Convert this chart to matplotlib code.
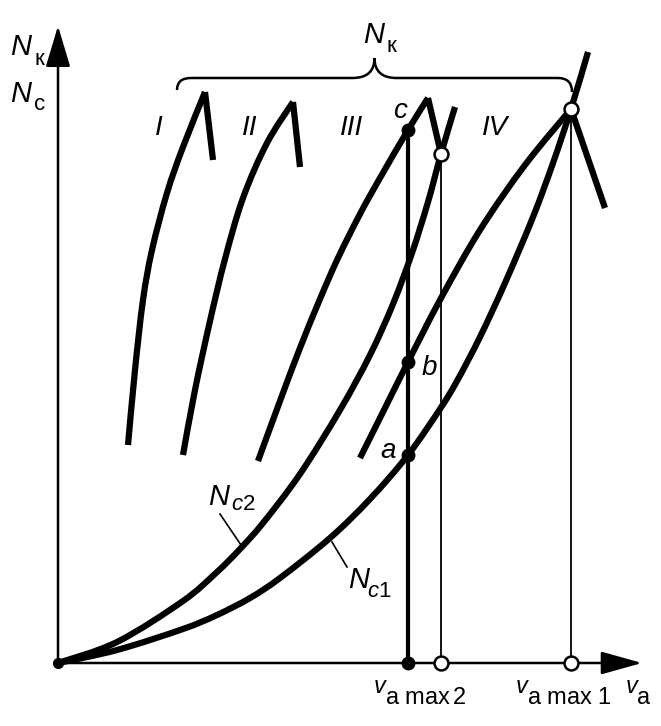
import matplotlib
matplotlib.use("Agg")
import matplotlib.pyplot as plt
from matplotlib import font_manager
from matplotlib.path import Path
from matplotlib.patches import PathPatch

# pick a narrow sans if there is one, the original lettering is condensed
names = {f.name for f in font_manager.fontManager.ttflist}
FONT = "Liberation Sans Narrow" if "Liberation Sans Narrow" in names else "Liberation Sans"
plt.rcParams["font.family"] = FONT
plt.rcParams["mathtext.fontset"] = "custom"
plt.rcParams["mathtext.rm"] = FONT
plt.rcParams["mathtext.it"] = FONT + ":italic"

# resistance power curves (road 1 and road 2)
nc1_v = [0, 59, 125, 159, 192, 222, 272, 312, 350, 382, 399, 422, 447, 475, 495, 513, 530]
nc1_N = [0, 13, 34, 48, 65, 85, 125, 164, 208, 254, 282, 326, 380, 446, 500, 554, 611]
nc2_v = [0, 59, 125, 159, 182, 205, 242, 282, 312, 335, 354, 370, 383, 397]
nc2_N = [0, 21, 62, 91, 114, 140, 189, 253, 308, 359, 410, 461, 509, 556]

# traction power per gear (rising branch up to the peak, then end of falling branch)
gear_I_v = [70, 77, 85, 94, 109, 125, 147, 155]
gear_I_N = [218, 293, 363, 413, 470, 516, 571, 503]
gear_II_v = [125, 137, 152, 167, 185, 209, 235, 242]
gear_II_N = [208, 273, 342, 404, 465, 520, 561, 496]
gear_III_v = [200, 222, 242, 262, 280, 302, 322, 350, 370, 383]
gear_III_N = [202, 262, 315, 364, 405, 449, 485, 533, 565, 509]
gear_IV_v = [302, 326, 350, 382, 422, 467, 513, 547]
gear_IV_N = [205, 253, 301, 363, 433, 498, 554, 455]
gear_names = ["I", "II", "III", "IV"]

# speeds and the marked points
v_max2 = 350
v_III = 383
v_max1 = 513
N_a, N_b, N_c = 208, 301, 533
N_III = 509
N_max1 = 554

fig = plt.figure(figsize=(6.61, 7.26), dpi=100)
ax = fig.add_axes([0, 0, 1, 1])
ax.set_xlim(-58, 603)
ax.set_ylim(-63, 663)
ax.axis("off")

LW = 4.5


def smooth_path(xs, ys):
    # catmull-rom through the read points, drawn as cubic bezier pieces
    pts = list(zip(xs, ys))
    verts = [pts[0]]
    codes = [Path.MOVETO]
    n = len(pts)
    for i in range(n - 1):
        p0 = pts[i - 1] if i > 0 else pts[i]
        p1 = pts[i]
        p2 = pts[i + 1]
        p3 = pts[i + 2] if i + 2 < n else pts[i + 1]
        c1 = (p1[0] + (p2[0] - p0[0]) / 6, p1[1] + (p2[1] - p0[1]) / 6)
        c2 = (p2[0] - (p3[0] - p1[0]) / 6, p2[1] - (p3[1] - p1[1]) / 6)
        verts += [c1, c2, p2]
        codes += [Path.CURVE4] * 3
    return Path(verts, codes)


def draw_curve(xs, ys):
    ax.add_patch(PathPatch(smooth_path(xs, ys), fill=False, lw=LW, color="k",
                           capstyle="butt", joinstyle="round", zorder=3))


for vv, nn in [(gear_I_v, gear_I_N), (gear_II_v, gear_II_N),
               (gear_III_v, gear_III_N), (gear_IV_v, gear_IV_N)]:
    draw_curve(vv[:-1], nn[:-1])
    ax.plot(vv[-2:], nn[-2:], color="k", lw=LW, solid_capstyle="butt",
            solid_joinstyle="miter", zorder=3)

draw_curve(nc1_v, nc1_N)
draw_curve(nc2_v, nc2_N)

# axes with arrows
ax.annotate("", xy=(0, 637), xytext=(0, 0),
            arrowprops=dict(arrowstyle="-|>,head_length=1.5,head_width=0.45", lw=1.8,
                            color="k", mutation_scale=17, shrinkA=0, shrinkB=0))
ax.annotate("", xy=(584, 0), xytext=(0, 0),
            arrowprops=dict(arrowstyle="-|>,head_length=1.5,head_width=0.42", lw=1.8,
                            color="k", mutation_scale=17, shrinkA=0, shrinkB=0))
ax.plot([0], [0], "o", color="k", ms=7, zorder=4)

# vertical lines at the maximum speeds
ax.plot([v_max2, v_max2], [0, N_c], color="k", lw=3.0, zorder=2)
ax.plot([v_III, v_III], [0, N_III], color="k", lw=1.3, zorder=2)
ax.plot([v_max1, v_max1], [0, N_max1], color="k", lw=1.3, zorder=2)

ax.plot([v_max2] * 4, [0, N_a, N_b, N_c], "o", color="k", ms=9, zorder=5)
ax.plot([v_III, v_III, v_max1, v_max1], [0, N_III, 0, N_max1], "o",
        mfc="white", mec="k", mew=1.8, ms=10, zorder=5)

# brace over the traction curves
bl, br, by = 119, 514, 585
bm = (bl + br) / 2
verts = [(bl, by - 12), (bl, by), (bl + 14, by), (bm - 22, by), (bm, by), (bm, by + 20),
         (bm, by), (bm + 22, by), (br - 14, by), (br, by), (br, by - 14)]
codes = [Path.MOVETO, Path.CURVE3, Path.CURVE3, Path.LINETO, Path.CURVE3, Path.CURVE3,
         Path.CURVE3, Path.CURVE3, Path.LINETO, Path.CURVE3, Path.CURVE3]
ax.add_patch(PathPatch(Path(verts, codes), fill=False, lw=1.8, color="k"))

# leaders for the resistance curves
ax.plot([162, 183], [149, 118], color="k", lw=1.2)
ax.plot([274, 289], [121, 96], color="k", lw=1.2)

BIG = 21
SUB = 16


def label(x, y, main, sub, dx, dy, size=BIG, subsize=SUB):
    ax.text(x, y, main, fontsize=size, fontstyle="italic", va="baseline", ha="left")
    ax.text(x + dx, y + dy, sub, fontsize=subsize, va="baseline", ha="left")


label(-48, 608, "N", "к", 24, -10)
label(-48, 561, "N", "с", 24, -8)
label(305, 620, "N", "к", 23, -9)
label(150, 158, "N", r"$\mathit{c2}$", 23, -5)
label(290, 75, "N", r"$\mathit{c1}$", 19, -9)

for name, x in zip(gear_names, [97, 184, 282, 424]):
    ax.text(x, 528, name, fontsize=20, fontstyle="italic", va="baseline", ha="left")

ax.text(335, 545, "c", fontsize=20, fontstyle="italic", va="baseline")
ax.text(364, 288, "b", fontsize=20, fontstyle="italic", va="baseline")
ax.text(322, 205, "a", fontsize=20, fontstyle="italic", va="baseline")


def speed_label(x, sub):
    ax.text(x, -30, "v", fontsize=17, fontstyle="italic", va="baseline", ha="left")
    ax.text(x + 11, -41, sub, fontsize=17, va="baseline", ha="left")


speed_label(316, r"$\mathrm{a\ max}\,\mathit{2}$")
speed_label(458, r"$\mathrm{a\ max}\ \mathit{1}$")
speed_label(568, "a")

fig.savefig("out.png", dpi=100)
